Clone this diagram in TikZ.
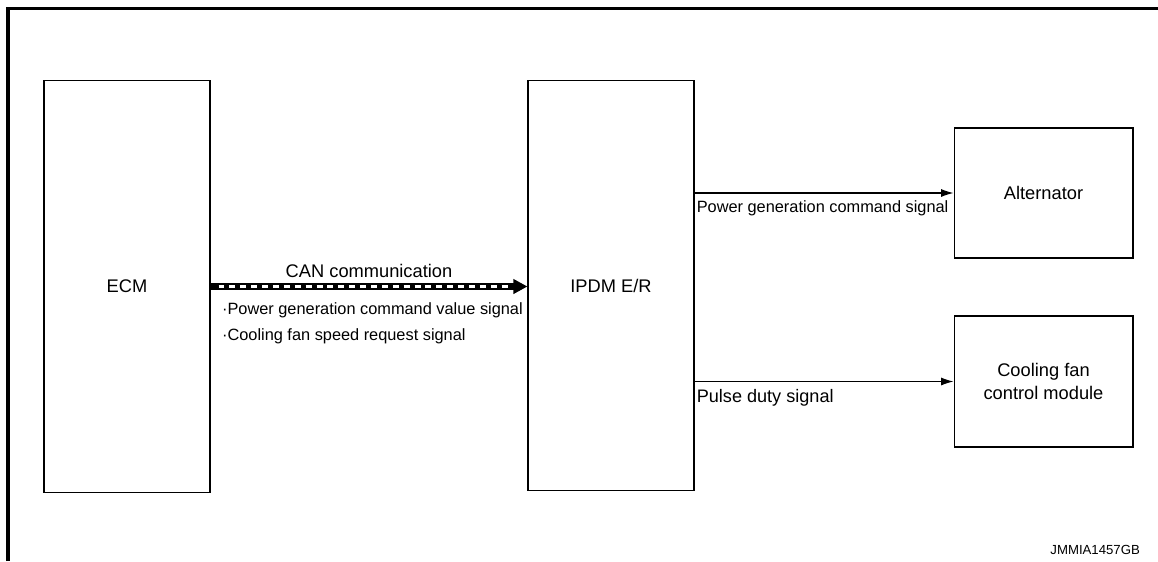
\documentclass[tikz,border=0pt]{standalone}
\usepackage{fontspec}
\setmainfont{Liberation Sans}
\usetikzlibrary{calc,arrows.meta}

\begin{document}
\begin{tikzpicture}
    [x=0.02cm, y=-0.02cm,
    every node/.style={font=\fontsize{9.3}{11.3}\selectfont},
    block/.style={draw, line width=0.6pt, align=center, inner sep=2pt,
        font=\fontsize{10.4}{11.6}\selectfont},
    signal/.style={-{Latex[length=7pt,width=4.5pt]}, line width=0.6pt},
    sigtext/.style={below right, inner sep=1pt, yshift=-3pt, align=left}
    ]
    \useasboundingbox (0,0) rectangle (1158,561);
    % frame
    \draw[line width=1.8pt] (8,561) -- (8,8.5) -- (1158,8.5);

    \node (ecm) [block, minimum width=3.32cm, minimum height=8.26cm] at (127,286.5) {ECM};
    \node (ipdm) [block, minimum width=3.32cm, minimum height=8.22cm] at (611,285.5) {IPDM E/R};
    \node (alt) [block, minimum width=3.58cm, minimum height=2.6cm] at (1043.5,193) {Alternator};
    \node (fan) [block, minimum width=3.58cm, minimum height=2.62cm] at (1043.5,381.5) {Cooling fan\\[1pt]control module};

    % CAN line
    \draw[line width=4pt, -{Triangle[length=8pt,width=8pt]}] (ecm.east) -- (ecm.east -| ipdm.west);
    \draw[white, line width=1.7pt, dash pattern=on 3.4pt off 2.8pt] ($(ecm.east)+(8,0)$) -- ($(ecm.east -| ipdm.west)+(-16,0)$);
    \node (can) [above, inner sep=5pt, font=\fontsize{10.4}{12}\selectfont] at ($(ecm.east)!0.5!(ecm.east -| ipdm.west)$) {CAN communication};
    \node (canlist) [below right, inner sep=3pt, align=left] at ($(ecm.east)+(6,11)$)
        {{\textperiodcentered}Power generation command value signal\\[3pt]{\textperiodcentered}Cooling fan speed request signal};

    \draw[signal] (ipdm.east |- alt.west) -- (alt.west)
        node (powtext) [sigtext, pos=0] {Power generation command signal};
    \draw[signal] (ipdm.east |- fan.west) -- (fan.west)
        node (pulsetext) [sigtext, pos=0, font=\fontsize{10.3}{12}\selectfont] {Pulse duty signal};

    \node (code) [font=\fontsize{7.5}{9}\selectfont, anchor=base east] at (1146,554) {JMMIA1457GB};
\end{tikzpicture}
\end{document}
